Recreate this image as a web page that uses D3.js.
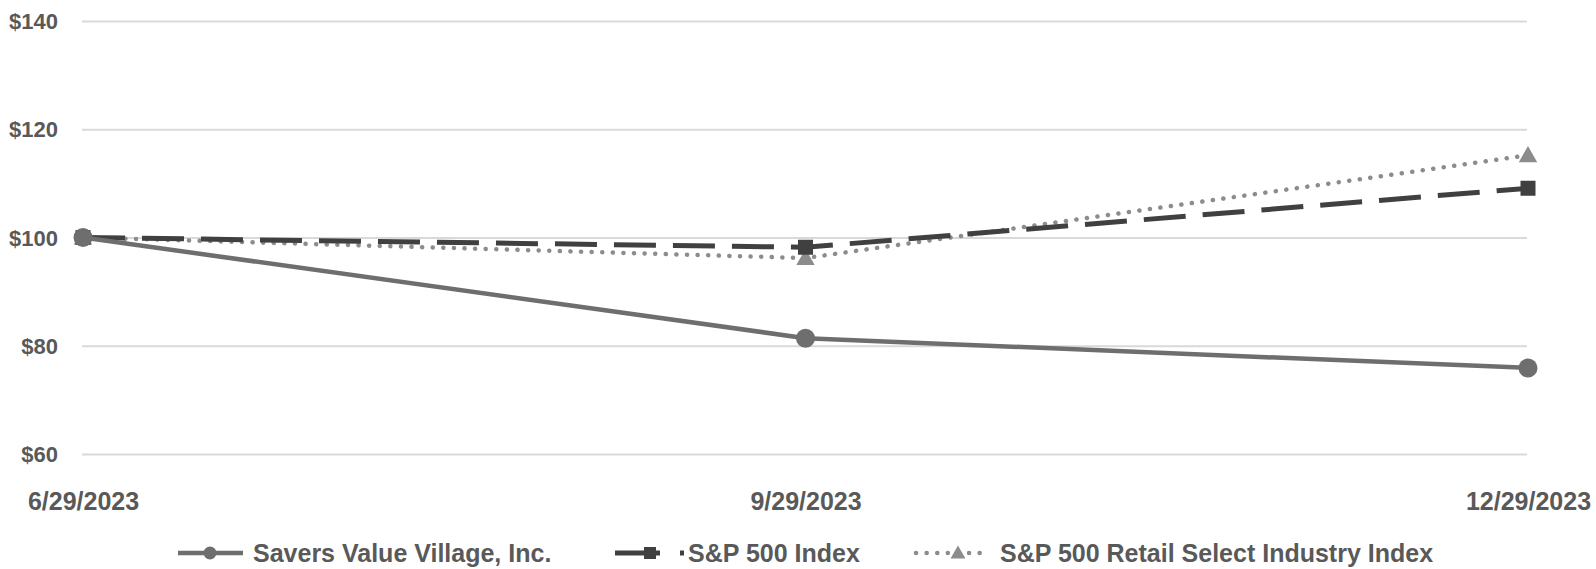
<!DOCTYPE html>
<html>
<head>
<meta charset="utf-8">
<script src="https://cdn.jsdelivr.net/npm/d3@7/dist/d3.min.js"></script>
<style>
  html, body { margin: 0; padding: 0; background: #fff; }
  svg { display: block; }
  text { font-family: "Liberation Sans", Arial, sans-serif; font-weight: bold; fill: #595959; }
</style>
</head>
<body>
<svg id="chart" width="1596" height="569"></svg>
<script>
const dates = ["6/29/2023", "9/29/2023", "12/29/2023"];
const saversValues = [100, 81.4, 75.9];
const sp500Values = [100, 98.2, 109.1];
const retailValues = [100, 96.2, 115.2];
const yTicks = [60, 80, 100, 120, 140];
const seriesNames = ["Savers Value Village, Inc.", "S&P 500 Index", "S&P 500 Retail Select Industry Index"];

const svg = d3.select("#chart");
const x = d3.scalePoint().domain(dates).range([83, 1528]);
const y = d3.scaleLinear().domain([60, 140]).range([454, 21]);

// gridlines
const yAxis = d3.axisLeft(y).tickValues(yTicks).tickFormat(d => "$" + d).tickSize(-(1527 - 82)).tickPadding(24);
const gy = svg.append("g").attr("transform", "translate(82,0)").call(yAxis);
gy.select(".domain").remove();
gy.selectAll(".tick line").attr("stroke", "#d9d9d9").attr("stroke-width", 2);
gy.selectAll(".tick text").attr("font-size", 22).attr("fill", "#595959").attr("dy", "0.35em");

// x axis labels
const xAxis = d3.axisBottom(x).tickSize(0).tickPadding(0);
const gx = svg.append("g").attr("transform", "translate(0,492)").call(xAxis);
gx.select(".domain").remove();
gx.selectAll(".tick text").attr("font-size", 25).attr("fill", "#595959").attr("dy", "0.71em");

const series = [
  { name: seriesNames[2], values: retailValues, color: "#8c8c8c", width: 4.5, dash: "0.1,10.5", marker: "triangle", cap: "round" },
  { name: seriesNames[1], values: sp500Values, color: "#404040", width: 5, dash: "42,17", marker: "square", cap: "butt" },
  { name: seriesNames[0], values: saversValues, color: "#6e6e6e", width: 4.5, dash: null, marker: "circle", cap: "butt" }
];

const line = d3.line().x((d, i) => x(dates[i])).y(d => y(d));

function drawMarker(g, type, cx, cy, color, size) {
  if (type === "circle") {
    g.append("circle").attr("cx", cx).attr("cy", cy).attr("r", size).attr("fill", color);
  } else if (type === "square") {
    g.append("rect").attr("x", cx - size).attr("y", cy - size).attr("width", size * 2).attr("height", size * 2).attr("fill", color);
  } else {
    const s = size * 1.15;
    g.append("path").attr("d", `M${cx},${cy - s}L${cx + s},${cy + s * 0.75}L${cx - s},${cy + s * 0.75}Z`).attr("fill", color);
  }
}

series.forEach(s => {
  const g = svg.append("g");
  g.append("path").datum(s.values).attr("d", line).attr("fill", "none")
    .attr("stroke", s.color).attr("stroke-width", s.width)
    .attr("stroke-dasharray", s.dash).attr("stroke-linecap", s.cap);
  const sz = s.marker === "circle" ? 9.5 : (s.marker === "square" ? 7.5 : 8);
  s.values.forEach((v, i) => drawMarker(g, s.marker, x(dates[i]), y(v), s.color, sz));
});

// legend
const legendY = 553;
const legend = svg.append("g");
const legendItems = [
  { s: series[2], x0: 178, x1: 243, mx: 210, tx: 253 },
  { s: series[1], x0: 615, x1: 684, mx: 650, tx: 688 },
  { s: series[0], x0: 916, x1: 990, mx: 958, tx: 1000 }
];
legendItems.forEach(it => {
  const s = it.s;
  legend.append("line").attr("x1", it.x0).attr("x2", it.x1).attr("y1", legendY).attr("y2", legendY)
    .attr("stroke", s.color).attr("stroke-width", s.width)
    .attr("stroke-dasharray", s.marker === "square" ? "45,20" : s.dash).attr("stroke-linecap", s.cap);
  const sz = s.marker === "circle" ? 6.5 : (s.marker === "square" ? 6 : 6.5);
  drawMarker(legend, s.marker, it.mx, legendY, s.color, sz);
  legend.append("text").attr("x", it.tx).attr("y", legendY).attr("dy", "0.36em")
    .attr("font-size", 25).text(s.name);
});
</script>
</body>
</html>
